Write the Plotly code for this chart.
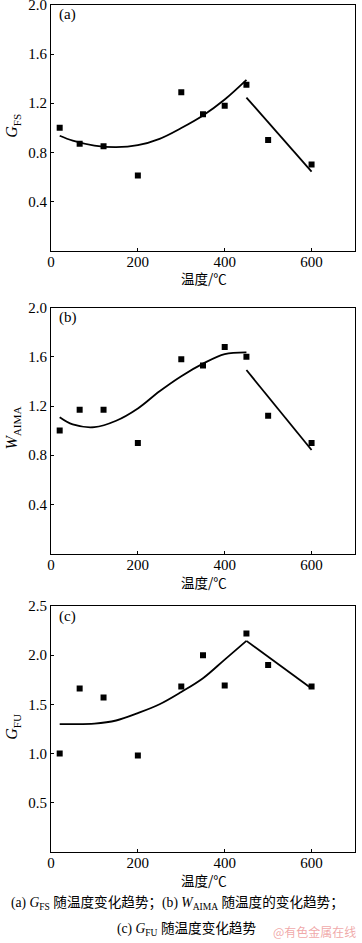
import plotly.graph_objects as go

# ---- data ----
temp = [20, 66, 121, 200, 300, 350, 400, 450, 500, 600]
gfs = [1.00, 0.87, 0.85, 0.61, 1.29, 1.11, 1.18, 1.35, 0.90, 0.70]
waima = [1.00, 1.17, 1.17, 0.90, 1.58, 1.53, 1.68, 1.60, 1.12, 0.90]
gfu = [1.00, 1.66, 1.57, 0.98, 1.68, 2.00, 1.69, 2.22, 1.90, 1.68]

fit_x = [20, 50, 100, 150, 200, 250, 300, 350, 400, 450]
gfs_fit = [0.935, 0.895, 0.855, 0.842, 0.858, 0.91, 0.998, 1.10, 1.23, 1.39]
waima_fit = [1.108, 1.05, 1.028, 1.08, 1.18, 1.32, 1.443, 1.545, 1.623, 1.637]
gfu_fit = [1.298, 1.298, 1.303, 1.335, 1.41, 1.50, 1.625, 1.765, 1.955, 2.145]

drop_x = [450, 600]
gfs_drop = [1.246, 0.642]
waima_drop = [1.493, 0.842]
gfu_drop = [2.145, 1.66]

x_ticks = [0, 200, 400, 600]
y_ticks_ab = [0.4, 0.8, 1.2, 1.6, 2.0]
y_ticks_c = [0.5, 1.0, 1.5, 2.0, 2.5]

W, H = 362, 943
SERIF = "Liberation Serif, Times New Roman, serif"
CJK = "Noto Sans CJK SC"

fig = go.Figure()

panels = [
    ("", gfs, gfs_fit, gfs_drop, (5, 250.5), [0, 2.0], y_ticks_ab, "(a)", "<i>G</i><sub>FS</sub>"),
    ("2", waima, waima_fit, waima_drop, (307.7, 553.5), [0, 2.0], y_ticks_ab, "(b)", "<i>W</i><sub>AIMA</sub>"),
    ("3", gfu, gfu_fit, gfu_drop, (606, 851.7), [0, 2.5], y_ticks_c, "(c)", "<i>G</i><sub>FU</sub>"),
]

annotations = []
for suf, pts, fit, drop, (top, bot), yr, yt, lab, ytitle in panels:
    xa, ya = "x" + suf, "y" + suf
    fig.add_trace(go.Scatter(x=fit_x, y=fit, mode="lines", xaxis=xa, yaxis=ya,
                             line=dict(color="black", width=1.8, shape="spline", smoothing=1.0),
                             showlegend=False, hoverinfo="skip"))
    fig.add_trace(go.Scatter(x=drop_x, y=drop, mode="lines", xaxis=xa, yaxis=ya,
                             line=dict(color="black", width=1.8), showlegend=False, hoverinfo="skip"))
    fig.add_trace(go.Scatter(x=temp, y=pts, mode="markers", xaxis=xa, yaxis=ya,
                             marker=dict(symbol="square", size=6, color="black"),
                             showlegend=False))
    axcommon = dict(showline=True, linecolor="black", linewidth=1, mirror=True,
                    ticks="inside", ticklen=3, tickcolor="black", showgrid=False,
                    zeroline=False, ticklabeloverflow="allow",
                    tickfont=dict(family=SERIF, size=15, color="black"))
    dom_y = [1 - bot / H, 1 - top / H]
    fig.update_layout(**{
        "xaxis" + suf: dict(domain=[51 / W, 355 / W], range=[0, 700], tickvals=x_ticks,
                            anchor=ya, ticklabelstandoff=-3, **axcommon),
        "yaxis" + suf: dict(domain=dom_y, range=yr, tickvals=yt, tickformat=".1f",
                            anchor=xa, **axcommon),
    })
    annotations.append(dict(x=57 / W, y=1 - (top + 10) / H, xref="paper", yref="paper",
                            text=lab, showarrow=False, xanchor="left", yanchor="middle",
                            font=dict(family=SERIF, size=15, color="black")))
    annotations.append(dict(x=13 / W, y=1 - ((top + bot) / 2 - 2) / H, xref="paper", yref="paper",
                            text=ytitle, showarrow=False, textangle=-90,
                            xanchor="center", yanchor="middle",
                            font=dict(family=SERIF, size=16, color="black")))
    annotations.append(dict(x=204 / W, y=1 - (bot + 28) / H, xref="paper", yref="paper",
                            text="温度/℃", showarrow=False, xanchor="center", yanchor="middle",
                            font=dict(family=CJK, size=13.5, color="black")))

annotations.append(dict(x=177 / W, y=1 - 903 / H, xref="paper", yref="paper",
                        text="(a) <i>G</i><sub>FS</sub> 随温度变化趋势；(b) <i>W</i><sub>AIMA</sub> 随温度的变化趋势；",
                        showarrow=False, xanchor="center", yanchor="middle",
                        font=dict(family=SERIF + ", " + CJK, size=13.6, color="black")))
annotations.append(dict(x=186 / W, y=1 - 929 / H, xref="paper", yref="paper",
                        text="(c) <i>G</i><sub>FU</sub> 随温度变化趋势",
                        showarrow=False, xanchor="center", yanchor="middle",
                        font=dict(family=SERIF + ", " + CJK, size=13.6, color="black")))
annotations.append(dict(x=358 / W, y=1 - 931 / H, xref="paper", yref="paper",
                        text="@有色金属在线", showarrow=False, xanchor="right", yanchor="middle",
                        font=dict(family=CJK, size=12, color="rgba(235,140,140,0.75)")))

fig.update_layout(width=W, height=H, margin=dict(l=0, r=0, t=0, b=0, autoexpand=False),
                  paper_bgcolor="white", plot_bgcolor="white",
                  annotations=annotations)

fig.write_html("out.html", config={"displayModeBar": False},
               post_script="document.body.style.margin='0';document.body.style.padding='0';")
